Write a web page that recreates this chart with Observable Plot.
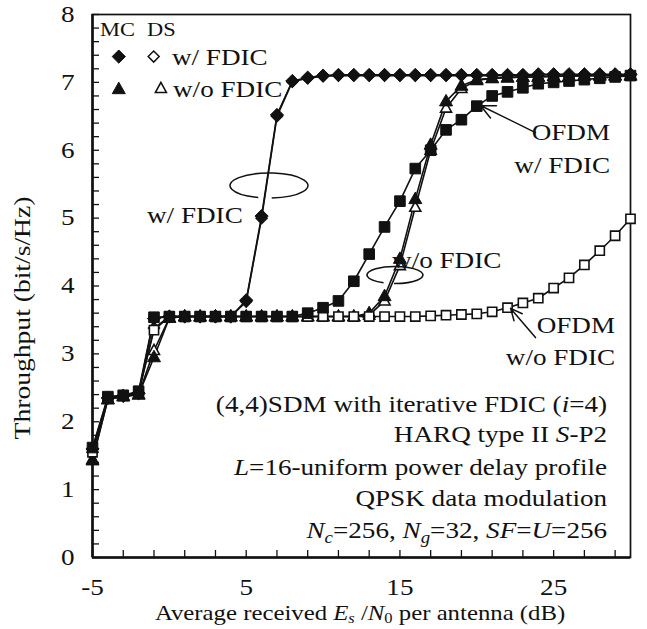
<!DOCTYPE html>
<html>
<head>
<meta charset="utf-8">
<script src="https://cdn.jsdelivr.net/npm/d3@7"></script>
<script src="https://cdn.jsdelivr.net/npm/@observablehq/plot@0.6"></script>
<style>
  html, body { margin: 0; padding: 0; background: #fff; }
  #chart svg { display: block; }
</style>
</head>
<body>
<div id="chart"></div>
<script>
// ---------------- data ----------------
const snrDb = [-5,-4,-3,-2,-1,0,1,2,3,4,5,6,7,8,9,10,11,12,13,14,15,16,17,18,19,20,21,22,23,24,25,26,27,28,29,30];

const mcWithFdic = [1.60,2.35,2.38,2.42,3.52,3.55,3.55,3.55,3.55,3.55,3.79,5.03,6.52,7.02,7.07,7.10,7.11,7.11,7.11,7.11,7.11,7.11,7.11,7.11,7.11,7.11,7.11,7.11,7.11,7.12,7.12,7.12,7.12,7.12,7.12,7.12];
const dsWithFdic = [1.55,2.35,2.38,2.42,3.38,3.55,3.55,3.55,3.55,3.55,3.77,5.00,6.50,7.01,7.06,7.09,7.10,7.10,7.10,7.10,7.10,7.10,7.10,7.10,7.10,7.10,7.10,7.10,7.10,7.11,7.11,7.11,7.11,7.11,7.11,7.11];
const mcWithoutFdic = [1.43,2.33,2.38,2.40,2.95,3.53,3.55,3.55,3.55,3.55,3.55,3.55,3.55,3.55,3.55,3.55,3.55,3.55,3.60,3.85,4.40,5.28,6.08,6.72,6.95,7.04,7.06,7.07,7.08,7.08,7.09,7.09,7.10,7.10,7.10,7.10];
const dsWithoutFdic = [1.45,2.33,2.37,2.40,3.05,3.53,3.55,3.55,3.55,3.55,3.55,3.55,3.55,3.55,3.55,3.55,3.55,3.55,3.57,3.78,4.30,5.16,6.00,6.62,6.91,7.03,7.06,7.07,7.08,7.08,7.09,7.09,7.10,7.10,7.10,7.10];
const ofdmWithFdic = [1.62,2.37,2.39,2.45,3.54,3.55,3.55,3.55,3.55,3.55,3.55,3.55,3.55,3.55,3.60,3.68,3.78,4.07,4.47,4.87,5.25,5.73,6.00,6.30,6.45,6.65,6.80,6.86,6.92,6.98,7.00,7.02,7.04,7.06,7.08,7.10];
const ofdmWithoutFdic = [1.55,2.35,2.38,2.44,3.35,3.55,3.55,3.55,3.55,3.55,3.55,3.55,3.55,3.55,3.55,3.55,3.55,3.55,3.55,3.55,3.55,3.55,3.56,3.57,3.58,3.59,3.62,3.68,3.75,3.82,3.97,4.12,4.31,4.52,4.74,4.99];

const xLabelTicks = [-5, 5, 15, 25];
const xMinorTicks = [-5,-3,-1,1,3,5,7,9,11,13,15,17,19,21,23,25,27,29];
const yLabelTicks = [0,1,2,3,4,5,6,7,8];
const yMinorTicks = d3.range(0, 40.5, 1).map(k => k / 5);

// text content
const yTitle = "Throughput (bit/s/Hz)";
const xTitleParts = ["Average received ", {t: "E", i: true}, {t: "s", i: true, sub: true}, " /", {t: "N", i: true}, {t: "0", sub: true}, " per antenna (dB)"];
const infoLines = [
  ["(4,4)SDM with iterative FDIC (", {t: "i", i: true}, "=4)"],
  ["HARQ type II ", {t: "S", i: true}, "-P2"],
  [{t: "L", i: true}, "=16-uniform power delay profile"],
  ["QPSK data modulation"],
  [{t: "N", i: true}, {t: "c", i: true, sub: true}, "=256, ", {t: "N", i: true}, {t: "g", i: true, sub: true}, "=32, ", {t: "SF", i: true}, "=", {t: "U", i: true}, "=256"]
];
// annotation anchors in data units (x dB, y bit/s/Hz)
const infoAnchorX = 28.51;
const infoBaselines = [2.135, 1.698, 1.208, 0.756, 0.275];
const notes = [
  {text: ["MC"], x: -4.48, y: 7.676, anchor: "start", size: 19},
  {text: ["DS"], x: -1.42, y: 7.676, anchor: "start", size: 19},
  {text: ["w/ FDIC"], x: 0.20, y: 7.25, anchor: "start", size: 23},
  {text: ["w/o FDIC"], x: 0.27, y: 6.78, anchor: "start", size: 23},
  {text: ["w/ FDIC"], x: -1.42, y: 4.92, anchor: "start", size: 23},
  {text: ["w/o FDIC"], x: 14.52, y: 4.26, anchor: "start", size: 23},
  {text: ["OFDM"], x: 28.70, y: 6.14, anchor: "end", size: 23},
  {text: ["w/ FDIC"], x: 28.70, y: 5.66, anchor: "end", size: 23},
  {text: ["OFDM"], x: 29.03, y: 3.30, anchor: "end", size: 23},
  {text: ["w/o FDIC"], x: 29.03, y: 2.83, anchor: "end", size: 23}
];
const arrows = [
  {x1: 23.82, y1: 6.26, x2: 20.24, y2: 6.66},
  {x1: 23.82, y1: 3.24, x2: 22.20, y2: 3.67}
];
const rings = [
  {x: 6.515, y: 5.473, rx: 39, ry: 12.5, gap: [86, 106]},
  {x: 14.71, y: 4.155, rx: 28, ry: 8.5, gap: [92, 114]}
];
const legendMarks = [
  {key: "MC w/ FDIC", x: -3.29, y: 7.38},
  {key: "DS w/ FDIC", x: -1.02, y: 7.38},
  {key: "MC w/o FDIC", x: -3.29, y: 6.90},
  {key: "DS w/o FDIC", x: -0.55, y: 6.91}
];

// ---------------- symbols & styles ----------------
const INK = "#111";
const FONT = "'Liberation Serif', 'Times New Roman', serif";
const STRETCH = 1.18;
const diamond = h => ({draw(c) { c.moveTo(0, -h); c.lineTo(h, 0); c.lineTo(0, h); c.lineTo(-h, 0); c.closePath(); }});
const square = h => ({draw(c) { c.moveTo(-h, -h); c.lineTo(h, -h); c.lineTo(h, h); c.lineTo(-h, h); c.closePath(); }});
const triangle = (w, up, dn) => ({draw(c) { c.moveTo(0, -up); c.lineTo(w, dn); c.lineTo(-w, dn); c.closePath(); }});

// drawing order: bottom to top
const series = [
  {name: "DS w/ FDIC", values: dsWithFdic, symbol: diamond(5.5), fill: "white", sw: 1.5},
  {name: "MC w/ FDIC", values: mcWithFdic, symbol: diamond(6.6), fill: INK, sw: 1},
  {name: "DS w/o FDIC", values: dsWithoutFdic, symbol: triangle(5.5, 6, 4), fill: "white", sw: 1.6},
  {name: "MC w/o FDIC", values: mcWithoutFdic, symbol: triangle(6.5, 7, 4.5), fill: INK, sw: 1},
  {name: "OFDM w/o FDIC", values: ofdmWithoutFdic, symbol: square(4.6), fill: "white", sw: 1.6},
  {name: "OFDM w/ FDIC", values: ofdmWithFdic, symbol: square(5.3), fill: INK, sw: 1}
];
const byName = Object.fromEntries(series.map(s => [s.name, s]));
const rows = series.flatMap(s => snrDb.map((x, i) => ({series: s.name, x, y: s.values[i]})));

const chart = Plot.plot({
  width: 647,
  height: 629,
  marginLeft: 92,
  marginRight: 17,
  marginTop: 14,
  marginBottom: 72,
  x: {domain: [-5, 30]},
  y: {domain: [0, 8]},
  style: {background: "white", color: INK, fontFamily: FONT, fontSize: "23px"},
  marks: [
    Plot.axisY(yMinorTicks, {anchor: "left", tickSize: -7, tickFormat: () => "", label: null, strokeWidth: 1.3}),
    Plot.axisY(yLabelTicks, {anchor: "left", tickSize: 0, tickPadding: 18, tickFormat: d => String(d), label: null, fontSize: 23}),
    Plot.axisX(xMinorTicks, {anchor: "bottom", tickSize: -7, tickFormat: () => "", label: null, strokeWidth: 1.3}),
    Plot.axisX(xLabelTicks, {anchor: "bottom", tickSize: 0, tickPadding: 21, tickFormat: d => String(d), label: null, fontSize: 23}),
    Plot.frame({stroke: INK, strokeWidth: 1.7}),
    Plot.ruleX([-5], {stroke: INK, strokeWidth: 2.6}),
    Plot.ruleY([0], {stroke: INK, strokeWidth: 2.6}),
    ...series.map(s => Plot.line(rows.filter(r => r.series === s.name), {x: "x", y: "y", stroke: INK, strokeWidth: 1.6})),
    ...series.map(s => Plot.dot(rows.filter(r => r.series === s.name), {x: "x", y: "y", symbol: s.symbol, fill: s.fill, stroke: INK, strokeWidth: s.sw})),
    ...legendMarks.map(m => Plot.dot([m], {x: "x", y: "y", symbol: byName[m.key].symbol, fill: byName[m.key].fill, stroke: INK, strokeWidth: byName[m.key].sw})),
    Plot.arrow(arrows, {x1: "x1", y1: "y1", x2: "x2", y2: "y2", stroke: INK, strokeWidth: 1.5, headLength: 16, headAngle: 50})
  ]
});
document.getElementById("chart").append(chart);

const svg = d3.select(chart);
// widen the Plot tick labels around their anchor points, like the reference typeface
svg.selectAll("text").each(function() {
  const ax = +this.getAttribute("x") || 0, ay = +this.getAttribute("y") || 0;
  const t = this.getAttribute("transform") || "";
  this.setAttribute("transform", `${t} translate(${ax},${ay}) scale(${STRETCH},1) translate(${-ax},${-ay})`);
});

const xs = chart.scale("x"), ys = chart.scale("y");
const fx = xs.apply ? v => xs.apply(v) : d3.scaleLinear(xs.domain, xs.range);
const fy = ys.apply ? v => ys.apply(v) : d3.scaleLinear(ys.domain, ys.range);

const layer = svg.append("g").attr("font-family", FONT).attr("fill", INK);
function addText(parts, px, py, {anchor = "start", size = 23, stretch = STRETCH, rotate = 0, subShift = 0.22} = {}) {
  const t = layer.append("text")
    .attr("transform", `translate(${px},${py})${rotate ? ` rotate(${rotate})` : ""} scale(${stretch},1)`)
    .attr("text-anchor", anchor)
    .attr("font-size", size);
  let shifted = 0;
  for (const p of parts) {
    const part = typeof p === "string" ? {t: p} : p;
    const ts = t.append("tspan").text(part.t);
    if (part.i) ts.attr("font-style", "italic");
    const want = part.sub ? Math.round(size * subShift) : 0;
    if (want !== shifted) { ts.attr("dy", want - shifted); shifted = want; }
    if (part.sub) ts.attr("font-size", Math.round(size * 0.68));
  }
  return t;
}

// axis titles
addText([yTitle], 30, 318, {anchor: "middle", size: 23, stretch: 1.2, rotate: -90});
addText(xTitleParts, fx(12.44), 620, {anchor: "middle", size: 21, subShift: 0.14});

// info block
infoLines.forEach((line, i) => addText(line, fx(infoAnchorX), fy(infoBaselines[i]), {anchor: "end", size: 23}));

// labels, legend text
for (const n of notes) addText(n.text, fx(n.x), fy(n.y), {anchor: n.anchor, size: n.size});

// rings around curves
for (const r of rings) {
  const cx = fx(r.x), cy = fy(r.y);
  const a0 = r.gap[1] * Math.PI / 180, a1 = (r.gap[0] + 360) * Math.PI / 180;
  const p = a => [cx + r.rx * Math.cos(a), cy + r.ry * Math.sin(a)];
  const [x0, y0] = p(a0), [x1, y1] = p(a1);
  svg.append("path")
    .attr("d", `M${x0},${y0} A${r.rx},${r.ry} 0 1 1 ${x1},${y1}`)
    .attr("fill", "none").attr("stroke", INK).attr("stroke-width", 1.5);
}
</script>
</body>
</html>
